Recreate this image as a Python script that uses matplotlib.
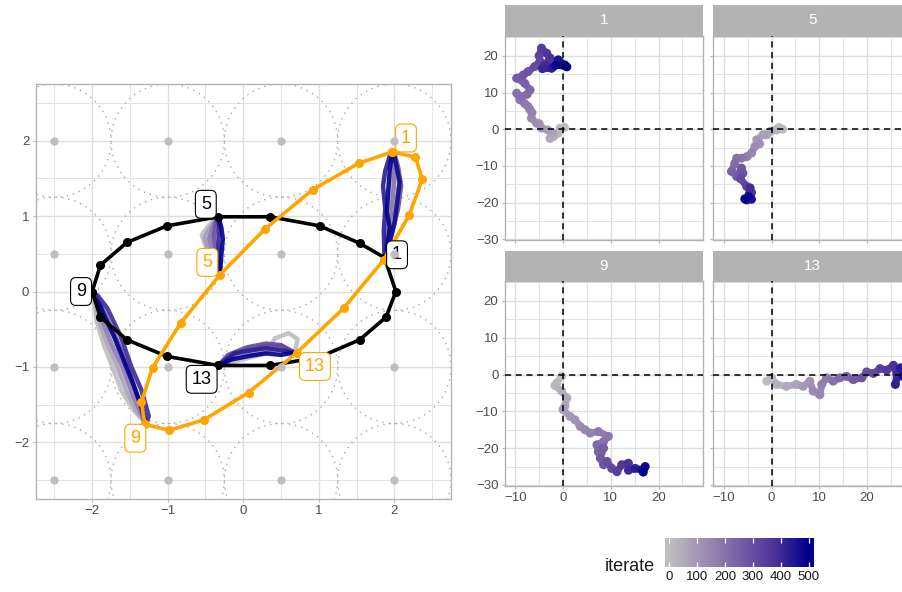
import matplotlib
matplotlib.use("Agg")
import matplotlib.pyplot as plt
import numpy as np
from matplotlib.colors import LinearSegmentedColormap, Normalize
from matplotlib.collections import LineCollection
from matplotlib.patches import Circle
from matplotlib.ticker import MultipleLocator

plt.rcParams['font.family'] = ['Liberation Sans', 'DejaVu Sans']
plt.rcParams['axes.unicode_minus'] = True

# --- left panel: shape before (black) and after (orange), points 1..18
BLACK_X = [1.87, 1.54, 1.01, 0.36, -0.33, -1.01, -1.54, -1.89, -2.00,
           -1.89, -1.54, -1.01, -0.33, 0.36, 1.01, 1.54, 1.89, 2.02]
BLACK_Y = [0.45, 0.64, 0.87, 0.99, 0.99, 0.87, 0.65, 0.35, 0.00,
           -0.34, -0.64, -0.86, -0.98, -0.98, -0.87, -0.64, -0.34, 0.00]
ORANGE_X = [1.97, 1.53, 0.92, 0.29, -0.31, -0.83, -1.20, -1.35, -1.30,
            -0.98, -0.52, 0.07, 0.71, 1.33, 1.86, 2.20, 2.37, 2.28]
ORANGE_Y = [1.85, 1.70, 1.35, 0.83, 0.22, -0.42, -1.01, -1.47, -1.76,
            -1.84, -1.70, -1.34, -0.81, -0.22, 0.42, 1.02, 1.49, 1.78]
LABEL_IDS = [1, 5, 9, 13]

GRID_POS = [-2.5, -1.0, 0.5, 2.0]
CIRCLE_R = 0.75

# strands of the optimisation paths: (iterate, xs, ys)
TRAJ_1 = [
    (0,   [1.88, 1.92, 1.93, 1.95, 1.98, 1.98], [0.45, 0.80, 1.10, 1.40, 1.60, 1.83]),
    (100, [1.89, 1.97, 2.02, 2.06, 2.03, 1.99], [0.48, 0.82, 1.12, 1.42, 1.65, 1.83]),
    (200, [1.88, 1.90, 1.96, 1.99, 2.00, 1.98], [0.46, 0.78, 1.05, 1.35, 1.62, 1.83]),
    (300, [1.90, 1.99, 2.05, 2.09, 2.05, 2.00], [0.50, 0.85, 1.10, 1.40, 1.65, 1.83]),
    (430, [1.87, 1.86, 1.88, 1.85, 1.88, 1.95], [0.45, 0.80, 1.10, 1.40, 1.60, 1.83]),
    (500, [1.90, 1.94, 1.90, 1.92, 1.94, 1.97], [0.55, 0.85, 1.05, 1.35, 1.62, 1.83]),
    (470, [1.92, 2.00, 2.04, 2.07, 2.02, 1.99], [0.60, 0.90, 1.20, 1.45, 1.70, 1.83]),
]
TRAJ_5 = [
    (0,   [-0.34, -0.45, -0.55, -0.50, -0.40, -0.31], [0.99, 0.88, 0.75, 0.60, 0.45, 0.22]),
    (100, [-0.34, -0.43, -0.51, -0.47, -0.37, -0.31], [0.99, 0.86, 0.72, 0.57, 0.42, 0.22]),
    (200, [-0.34, -0.40, -0.45, -0.41, -0.34, -0.31], [0.99, 0.85, 0.70, 0.55, 0.40, 0.22]),
    (300, [-0.34, -0.37, -0.39, -0.36, -0.32, -0.31], [0.99, 0.85, 0.70, 0.55, 0.35, 0.22]),
    (420, [-0.33, -0.32, -0.33, -0.32, -0.31],        [0.99, 0.85, 0.65, 0.45, 0.22]),
    (500, [-0.33, -0.29, -0.27, -0.29, -0.31],        [0.99, 0.85, 0.70, 0.48, 0.22]),
]
TRAJ_9 = [
    (0,   [-1.99, -1.94, -1.84, -1.74, -1.61, -1.46, -1.30], [-0.02, -0.40, -0.72, -0.98, -1.32, -1.56, -1.74]),
    (80,  [-1.98, -1.91, -1.79, -1.67, -1.54, -1.41, -1.30], [-0.02, -0.38, -0.71, -0.99, -1.33, -1.58, -1.74]),
    (180, [-1.98, -1.88, -1.74, -1.60, -1.47, -1.36, -1.29], [-0.02, -0.35, -0.70, -1.00, -1.35, -1.60, -1.74]),
    (300, [-1.97, -1.83, -1.67, -1.53, -1.41, -1.30],        [-0.02, -0.30, -0.65, -1.00, -1.35, -1.74]),
    (500, [-1.95, -1.85, -1.71, -1.58, -1.46, -1.35, -1.28], [-0.05, -0.30, -0.60, -0.92, -1.22, -1.52, -1.74]),
    (400, [-1.93, -1.80, -1.62, -1.48, -1.35, -1.25, -1.28], [-0.05, -0.22, -0.60, -1.00, -1.30, -1.65, -1.74]),
]
TRAJ_13 = [
    (0,   [-0.33, 0.00, 0.30, 0.42, 0.60, 0.72, 0.68], [-0.98, -0.90, -0.82, -0.62, -0.55, -0.63, -0.81]),
    (120, [-0.33, -0.10, 0.20, 0.45, 0.68],             [-0.98, -0.85, -0.80, -0.76, -0.81]),
    (220, [-0.33, -0.05, 0.25, 0.50, 0.68],             [-0.98, -0.80, -0.73, -0.72, -0.81]),
    (320, [-0.33, -0.20, 0.05, 0.30, 0.50, 0.68],       [-0.98, -0.84, -0.74, -0.69, -0.71, -0.81]),
    (430, [-0.33, -0.12, 0.10, 0.30, 0.50, 0.68],       [-0.98, -0.82, -0.78, -0.75, -0.78, -0.81]),
    (500, [-0.33, -0.15, 0.10, 0.30, 0.50, 0.68],       [-0.98, -0.90, -0.85, -0.82, -0.84, -0.81]),
]
TRAJS = [TRAJ_1, TRAJ_5, TRAJ_9, TRAJ_13]

# --- right panels: gradient per iterate for points 1, 5, 9, 13
F1_X = [0.3, -0.6, -1.0, -2.0, -2.7, -2.2, -3.2, -4.5, -5.0, -5.5, -6.6, -6.5, -6.9, -7.3, -8.0, -9.0, -9.7,
        -8.7, -7.5, -6.9, -8.0, -9.7, -8.3, -7.3, -5.9, -4.8, -5.0, -4.5, -3.4, -2.7, -3.8, -4.3, -2.4, -2.0,
        -1.0, 0.4, -1.5, 0.8]
F1_Y = [0.5, 0.3, -1.1, -2.0, -2.5, -1.0, -0.2, 0.3, 1.5, 1.6, 3.0, 4.5, 5.3, 6.2, 7.0, 8.0, 9.8,
        8.9, 9.5, 10.7, 12.5, 13.9, 14.8, 15.7, 17.1, 18.5, 20.0, 22.1, 20.7, 19.4, 17.5, 16.5, 16.6, 17.1,
        18.9, 17.5, 17.5, 17.0]
F1_IT = [0, 10, 25, 40, 55, 70, 85, 100, 115, 125, 140, 150, 160, 170, 180, 190, 200,
         210, 220, 230, 245, 260, 275, 290, 305, 320, 335, 350, 365, 380, 395, 410, 425, 440,
         455, 470, 485, 500]

F5_X = [1.5, 2.3, 1.0, -0.3, -1.0, -1.8, -3.1, -2.5, -3.5, -4.2, -5.2, -6.3, -7.3, -7.7, -8.4, -7.3, -6.3,
        -6.0, -6.5, -5.2, -4.2, -4.5, -5.2, -4.2, -4.8, -5.6]
F5_Y = [0.5, 0.0, -0.2, -0.6, -1.5, -1.5, -2.9, -4.0, -4.7, -6.5, -7.5, -7.9, -7.9, -9.3, -11.5, -12.9, -10.6,
        -12.0, -13.5, -15.6, -17.3, -16.0, -19.3, -19.1, -18.3, -19.0]
F5_IT = [0, 15, 30, 50, 65, 80, 100, 115, 130, 150, 170, 190, 205, 220, 240, 260, 275,
         290, 310, 340, 370, 390, 420, 450, 480, 500]

F9_X = [-0.3, -1.3, -1.7, -0.3, 0.8, 0.4, 0.0, 1.5, 2.5, 3.6, 4.6, 5.7, 7.4, 9.5, 8.5, 7.1, 7.4, 8.5,
        7.8, 8.5, 9.2, 10.2, 11.3, 12.3, 13.7, 13.7, 15.1, 16.5, 17.2, 16.8]
F9_Y = [-0.5, -2.3, -3.0, -4.5, -6.4, -8.6, -9.5, -11.4, -12.3, -14.1, -15.0, -15.9, -15.5, -16.8, -18.2,
        -19.1, -21.0, -20.0, -22.7, -24.5, -23.6, -25.5, -26.4, -24.5, -24.1, -26.0, -25.5, -25.9, -25.0, -26.5]
F9_IT = [0, 15, 25, 40, 55, 70, 80, 100, 115, 130, 145, 160, 175, 190, 205, 220, 240, 255,
         270, 285, 300, 320, 340, 360, 380, 400, 430, 460, 480, 500]

F13_X = [-1.0, 0.0, 1.0, 3.1, 5.2, 6.6, 8.0, 8.7, 10.1, 10.5, 11.5, 12.9, 14.3, 15.7, 17.1, 18.9, 19.9,
         21.3, 22.7, 24.1, 25.5, 26.2, 25.9, 27.0, 27.5, 28.5, 29.5]
F13_Y = [-1.8, -0.9, -2.7, -3.2, -2.7, -3.2, -1.8, -4.5, -5.5, -2.7, -0.9, -1.8, -0.9, -0.5, -1.4, -0.9, 0.7,
         0.3, 1.6, 1.2, 2.5, 0.0, -2.7, 1.8, -0.5, 1.0, 0.0]
F13_IT = [0, 15, 35, 55, 75, 95, 115, 135, 150, 165, 180, 200, 220, 240, 260, 280, 300,
          320, 340, 360, 380, 400, 420, 440, 460, 480, 500]

FACETS = [("1", F1_X, F1_Y, F1_IT), ("5", F5_X, F5_Y, F5_IT),
          ("9", F9_X, F9_Y, F9_IT), ("13", F13_X, F13_Y, F13_IT)]

CMAP = LinearSegmentedColormap.from_list(
    "iter", ["#bebebe", "#9e8fb4", "#7860a6", "#4f3399", "#00008b"])
NORM = Normalize(0, 500)

W, H = 902, 592
GRID_COL = "#dedede"
FRAME_COL = "#b3b3b3"
TEXT_COL = "#4d4d4d"


def px_box(x0, y0, x1, y1):
    return [x0 / W, 1 - y1 / H, (x1 - x0) / W, (y1 - y0) / H]


def light_axes(ax, major, minor):
    ax.xaxis.set_major_locator(MultipleLocator(major[0]))
    ax.yaxis.set_major_locator(MultipleLocator(major[1]))
    ax.xaxis.set_minor_locator(MultipleLocator(minor[0]))
    ax.yaxis.set_minor_locator(MultipleLocator(minor[1]))
    ax.grid(which="major", color=GRID_COL, lw=1.0, zorder=0)
    ax.grid(which="minor", color="#e4e4e4", lw=0.7, zorder=0)
    ax.set_axisbelow(True)
    for s in ax.spines.values():
        s.set_color(FRAME_COL)
        s.set_linewidth(1.0)
    ax.tick_params(which="major", length=2.5, width=0.8, color=FRAME_COL,
                   labelsize=9.5, labelcolor=TEXT_COL, pad=2)
    ax.tick_params(which="minor", length=0)


def left_panel(fig):
    ax = fig.add_axes(px_box(35.5, 84, 451, 499))
    ax.set_xlim(-2.75, 2.75)
    ax.set_ylim(-2.75, 2.75)
    light_axes(ax, (1, 1), (0.5, 0.5))

    for cx in GRID_POS:
        for cy in GRID_POS:
            ax.add_patch(Circle((cx, cy), CIRCLE_R, fill=False, ec="#a8a8a8",
                                lw=1.0, ls=(0, (1, 3.5)), zorder=1))

    for traj in TRAJS:
        for it, xs, ys in traj:
            ax.plot(xs, ys, color=CMAP(NORM(it)), lw=3.2, alpha=0.9,
                    solid_capstyle="round", solid_joinstyle="round", zorder=2)

    for xs, ys, col in [(BLACK_X, BLACK_Y, "black"), (ORANGE_X, ORANGE_Y, "orange")]:
        ax.plot(xs + xs[:1], ys + ys[:1], color=col, lw=2.6, marker="o", ms=5.5, zorder=3)

    # label offsets in points
    black_off = {1: (9, 2), 5: (-9, 9), 9: (-8, 0), 13: (-12, -10)}
    orange_off = {1: (10, 10), 5: (-9, 9), 9: (-7, -10), 13: (13, -10)}
    box = "round,pad=0.3,rounding_size=0.3"
    for i in LABEL_IDS:
        ax.annotate(str(i), (BLACK_X[i - 1], BLACK_Y[i - 1]), xytext=black_off[i],
                    textcoords="offset points", ha="center", va="center", fontsize=13,
                    color="black", zorder=4,
                    bbox=dict(boxstyle=box, fc="white", ec="black", lw=0.8))
        ax.annotate(str(i), (ORANGE_X[i - 1], ORANGE_Y[i - 1]), xytext=orange_off[i],
                    textcoords="offset points", ha="center", va="center", fontsize=13,
                    color="orange", zorder=4,
                    bbox=dict(boxstyle=box, fc="white", ec="orange", lw=0.8))

    gx, gy = np.meshgrid(GRID_POS, GRID_POS)
    ax.scatter(gx.ravel(), gy.ravel(), s=36, color="#bebebe", zorder=5, lw=0)


def facet(fig, box, strip_box, name, xs, ys, its, show_x, show_y):
    ax = fig.add_axes(px_box(*box))
    ax.set_xlim(-12.2, 29.3)
    ax.set_ylim(-30.2, 25.4)
    light_axes(ax, (10, 10), (5, 5))
    if not show_x:
        ax.tick_params(axis="x", labelbottom=False)
    if not show_y:
        ax.tick_params(axis="y", labelleft=False)

    pts = np.column_stack([xs, ys])
    segs = np.stack([pts[:-1], pts[1:]], axis=1)
    lc = LineCollection(segs, colors=CMAP(NORM(np.array(its[:-1]))), lw=5.0,
                        capstyle="round", joinstyle="round", zorder=2)
    ax.add_collection(lc)
    ax.scatter(xs, ys, c=its, cmap=CMAP, norm=NORM, s=42, lw=0, zorder=3)

    ax.axhline(0, color="black", lw=1.1, ls=(0, (4, 3)), zorder=4)
    ax.axvline(0, color="black", lw=1.1, ls=(0, (4, 3)), zorder=4)

    sax = fig.add_axes(px_box(*strip_box))
    sax.set_facecolor(FRAME_COL)
    sax.set_xticks([])
    sax.set_yticks([])
    for s in sax.spines.values():
        s.set_visible(False)
    sax.text(0.5, 0.5, name, color="white", fontsize=11, ha="center", va="center",
             transform=sax.transAxes)


def colorbar(fig):
    cax = fig.add_axes(px_box(665, 538, 814, 567))
    grad = np.linspace(-14, 518, 300)
    cax.imshow(grad[None, :], cmap=CMAP, norm=NORM, aspect="auto",
               extent=[-14, 518, 0, 1])
    cax.set_xlim(-14, 518)
    cax.set_ylim(0, 1)
    ticks = [0, 100, 200, 300, 400, 500]
    cax.vlines(ticks, 0, 0.18, color="white", lw=0.9)
    cax.vlines(ticks, 0.82, 1, color="white", lw=0.9)
    cax.set_xticks(ticks)
    cax.set_yticks([])
    cax.tick_params(length=0, labelsize=9.5, labelcolor="#1a1a1a", pad=3)
    for s in cax.spines.values():
        s.set_visible(False)
    fig.text(655 / W, 1 - 571 / H, "iterate", ha="right", va="baseline",
             fontsize=13, color="#1a1a1a")


def main():
    fig = plt.figure(figsize=(W / 100, H / 100), dpi=100)
    left_panel(fig)

    cols = [(504.7, 703.0), (713.3, 911.6)]
    rows = [((5, 36), (36, 240)), ((251, 281), (281, 485.7))]
    for k, (name, xs, ys, its) in enumerate(FACETS):
        r, c = divmod(k, 2)
        (st0, st1), (p0, p1) = rows[r]
        x0, x1 = cols[c]
        facet(fig, (x0, p0, x1, p1), (x0, st0, x1, st1), name, xs, ys, its,
              show_x=(r == 1), show_y=(c == 0))

    colorbar(fig)
    fig.savefig("out.png", dpi=100)


if __name__ == "__main__":
    main()
